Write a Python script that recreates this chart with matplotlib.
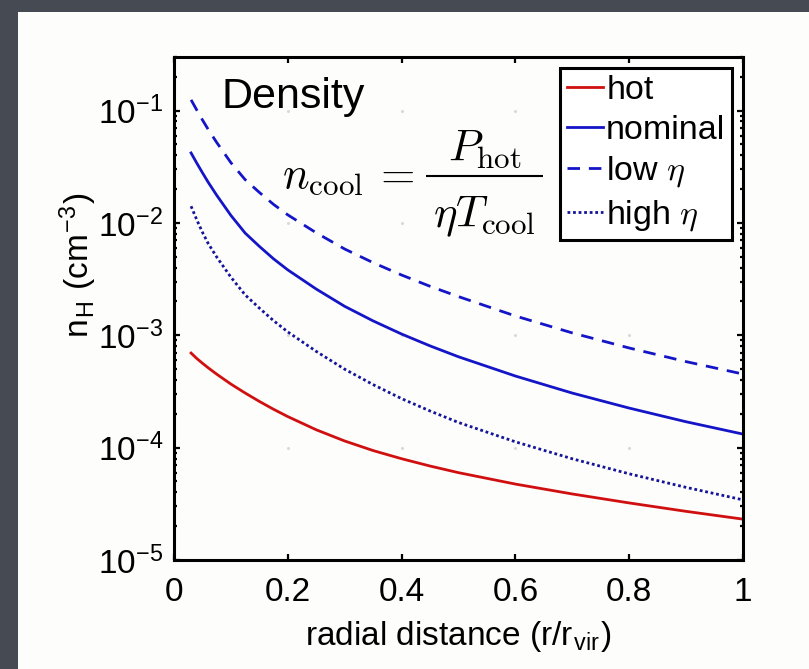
import numpy as np
import matplotlib
matplotlib.use("Agg")
import matplotlib.pyplot as plt
from matplotlib.patches import Rectangle
from matplotlib.ticker import FixedLocator, LogLocator, FuncFormatter, NullFormatter

plt.rcParams['font.family'] = ['Liberation Sans', 'DejaVu Sans']
plt.rcParams['mathtext.fontset'] = 'cm'

# radial distance (r / r_vir)
r = [0.03, 0.04, 0.05, 0.06, 0.075, 0.1, 0.125, 0.15, 0.175, 0.2, 0.25,
     0.3, 0.35, 0.4, 0.45, 0.5, 0.6, 0.7, 0.8, 0.9, 1.0]

# densities n_H (cm^-3)
n_hot = [6.95e-4, 6.22e-4, 5.64e-4, 5.14e-4, 4.51e-4, 3.68e-4, 3.065e-4,
         2.58e-4, 2.195e-4, 1.89e-4, 1.442e-4, 1.146e-4, 9.42e-5, 7.97e-5,
         6.86e-5, 5.99e-5, 4.74e-5, 3.87e-5, 3.22e-5, 2.71e-5, 2.31e-5]
n_nominal = [0.04198, 0.03412, 0.02799, 0.02307, 0.01766, 0.01167, 8.13e-3,
             6.19e-3, 4.79e-3, 3.82e-3, 2.58e-3, 1.81e-3, 1.343e-3, 1.026e-3,
             8.05e-4, 6.44e-4, 4.34e-4, 3.06e-4, 2.25e-4, 1.70e-4, 1.32e-4]
n_low_eta = [0.1247, 0.1012, 0.0826, 0.0681, 0.0521, 0.0344, 0.0243, 0.0187,
             0.01462, 0.0118, 8.17e-3, 5.86e-3, 4.43e-3, 3.44e-3, 2.73e-3,
             2.21e-3, 1.486e-3, 1.05e-3, 7.71e-4, 5.83e-4, 4.52e-4]
n_high_eta = [0.01409, 0.01067, 8.26e-3, 6.58e-3, 4.98e-3, 3.29e-3, 2.29e-3,
              1.746e-3, 1.349e-3, 1.072e-3, 7.19e-4, 4.99e-4, 3.64e-4, 2.73e-4,
              2.12e-4, 1.675e-4, 1.127e-4, 7.96e-5, 5.85e-5, 4.43e-5, 3.43e-5]

xticks = [0, 0.2, 0.4, 0.6, 0.8, 1]
yticks = [1e-5, 1e-4, 1e-3, 1e-2, 1e-1]

fig = plt.figure(figsize=(8.09, 6.69), dpi=100)
fig.patch.set_facecolor('#464a52')
# white slide panel
fig.add_artist(Rectangle((18 / 809, 0), 1, 1 - 12 / 669, transform=fig.transFigure,
                         facecolor='#fdfdfb', edgecolor='none', zorder=-5))

ax = fig.add_axes([174 / 809, 1 - 560 / 669, 569 / 809, 503 / 669])
ax.set_facecolor('#fdfdfb')

blue = '#1515c8'
ax.plot(r, n_hot, color='#d01010', lw=2.0, label='hot')
ax.plot(r, n_nominal, color=blue, lw=2.0, label='nominal')
ax.plot(r, n_low_eta, color=blue, lw=2.0, ls=(0, (4.5, 3.2)), label=r'low $\eta$')
ax.plot(r, n_high_eta, color='#14149a', lw=2.0, ls=(0, (1, 1)), label=r'high $\eta$')

# faint grid dots at tick intersections
for xv in xticks[1:-1]:
    for yv in yticks[1:]:
        ax.plot(xv, yv, 'o', ms=2.2, color='#d9d9d9', mec='none', zorder=0)

ax.set_yscale('log')
ax.set_xlim(0, 1)
ax.set_ylim(1e-5, 0.3)
ax.xaxis.set_major_locator(FixedLocator(xticks))
ax.xaxis.set_major_formatter(FuncFormatter(lambda v, p: '%g' % v))
ax.yaxis.set_major_locator(FixedLocator(yticks))
ax.yaxis.set_minor_locator(LogLocator(base=10, subs=np.arange(2, 10), numticks=20))
ax.yaxis.set_minor_formatter(NullFormatter())
ax.yaxis.set_major_formatter(FuncFormatter(
    lambda v, p: r'$\mathregular{10^{%d}}$' % int(round(np.log10(v)))))

ax.tick_params(which='both', direction='in', top=True, right=True, width=1.6,
               labelsize=24, colors='black')
ax.tick_params(which='major', length=4)
ax.tick_params(which='minor', length=2.5)
ax.tick_params(axis='x', pad=12)
ax.tick_params(axis='y', pad=8)
for s in ax.spines.values():
    s.set_linewidth(2.2)

ax.set_xlabel(r'radial distance (r/r$_\mathregular{vir}$)', fontsize=24, labelpad=8)
fig.text(0.097, 0.604, r'n$_\mathregular{H}$ (cm$^\mathregular{-3}$)', fontsize=24,
         rotation=90, ha='center', va='center')

ax.text(0.084, 0.899, 'Density', transform=ax.transAxes, fontsize=31,
        va='baseline', ha='left')

# n_cool = P_hot / (eta T_cool), laid out like the LaTeX label
tr = ax.transAxes
ax.text(0.19, 0.7416, r'$n_{\mathrm{cool}}$', transform=tr, fontsize=32,
        va='baseline', ha='left')
ax.text(0.349, 0.7416, r'$=$', transform=tr, fontsize=32, va='baseline', ha='left')
ax.text(0.547, 0.795, r'$P_{\mathrm{hot}}$', transform=tr, fontsize=32,
        va='baseline', ha='center')
ax.plot([0.443, 0.649], [0.7626, 0.7626], color='black', lw=1.5, transform=tr,
        solid_capstyle='butt')
ax.text(0.545, 0.662, r'$\eta T_{\mathrm{cool}}$', transform=tr, fontsize=32,
        va='baseline', ha='center')

leg = ax.legend(loc='upper right', bbox_to_anchor=(0.981, 0.978), borderaxespad=0,
                fontsize=24.5, handlelength=1.05, handletextpad=0.1, labelspacing=0.26,
                borderpad=0.2, fancybox=False, framealpha=1, edgecolor='black')
leg.get_frame().set_linewidth(2.2)

fig.savefig('out.png', dpi=100, facecolor=fig.get_facecolor())
